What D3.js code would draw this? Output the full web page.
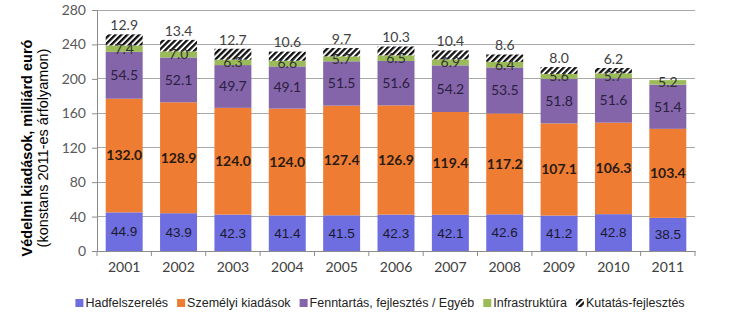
<!DOCTYPE html>
<html><head><meta charset="utf-8">
<script src="https://cdn.jsdelivr.net/npm/d3@7"></script>
<style>body{margin:0;background:#fff}svg{display:block}</style>
</head><body>
<svg id="c" width="737" height="330"></svg>
<script>
const years = ["2001","2002","2003","2004","2005","2006","2007","2008","2009","2010","2011"];
const hadfelszereles = [44.9,43.9,42.3,41.4,41.5,42.3,42.1,42.6,41.2,42.8,38.5];
const szemelyi = [132.0,128.9,124.0,124.0,127.4,126.9,119.4,117.2,107.1,106.3,103.4];
const fenntartas = [54.5,52.1,49.7,49.1,51.5,51.6,54.2,53.5,51.8,51.6,51.4];
const infrastruktura = [7.4,7.0,6.3,6.6,5.7,6.5,6.9,6.4,5.6,5.7,5.2];
const kutatas = [12.9,13.4,12.7,10.6,9.7,10.3,10.4,8.6,8.0,6.2,null];
const seriesNames = ["Hadfelszerelés","Személyi kiadások","Fenntartás, fejlesztés / Egyéb","Infrastruktúra","Kutatás-fejlesztés"];
const yTicks = [0,40,80,120,160,200,240,280];

const seriesVals = [hadfelszereles, szemelyi, fenntartas, infrastruktura, kutatas];
const colors = ["#6E6EE0","#EE7D33","#8565AA","#9BBB59","url(#hatch)"];
const labelStyle = [
  {font:"'Liberation Sans',Arial,sans-serif", weight:400, fill:"#1a1a2e", size:13.5},
  {font:"Lato,'Open Sans',sans-serif", weight:700, fill:"#2a1a10", size:14},
  {font:"Lato,'Open Sans',sans-serif", weight:400, fill:"#2a2040", size:14},
  {font:"Lato,'Open Sans',sans-serif", weight:400, fill:"#333", size:14},
  {font:"Lato,'Open Sans',sans-serif", weight:400, fill:"#404040", size:14}
];

const svg = d3.select("#c");
const defs = svg.append("defs");
const pat = defs.append("pattern").attr("id","hatch").attr("patternUnits","userSpaceOnUse")
  .attr("width",4.2).attr("height",4.2).attr("patternTransform","rotate(45)");
pat.append("rect").attr("width",4.2).attr("height",4.2).attr("fill","#fff");
pat.append("rect").attr("width",2.3).attr("height",4.2).attr("fill","#111");

const L = 97, R = 695, T = 10, B = 251;
const x = d3.scaleBand().domain(years).range([L,R]).paddingInner(0.32).paddingOuter(0.16);
const y = d3.scaleLinear().domain([0,280]).range([B,T]);

// gridlines
svg.append("g").selectAll("line").data(yTicks.filter(d=>d>0)).join("line")
  .attr("x1",L).attr("x2",R).attr("y1",d=>y(d)).attr("y2",d=>y(d))
  .attr("stroke","#A8A8A8").attr("stroke-width",1).attr("shape-rendering","crispEdges");

// stacked data
const rows = years.map((yr,i)=>{const o={year:yr}; seriesNames.forEach((s,j)=>o[s]=seriesVals[j][i]||0); return o;});
const stack = d3.stack().keys(seriesNames)(rows);

const gBars = svg.append("g");
stack.forEach((layer,j)=>{
  gBars.append("g").attr("fill",colors[j]).selectAll("rect").data(layer.filter(d=>d[1]-d[0]>0)).join("rect")
    .attr("x",d=>x(d.data.year)).attr("width",x.bandwidth())
    .attr("y",d=>y(d[1])).attr("height",d=>y(d[0])-y(d[1]));
});

// axes
const yAxis = d3.axisLeft(y).tickValues(yTicks).tickSize(5).tickPadding(6);
const gy = svg.append("g").attr("transform",`translate(${L},0)`).call(yAxis);
gy.select(".domain").attr("stroke","#8C8C8C");
gy.selectAll(".tick line").attr("stroke","#8C8C8C");
gy.selectAll("text").attr("font-family","Lato,'Open Sans',sans-serif").attr("font-size",14).attr("fill","#595959");

const xAxis = d3.axisBottom(x).tickSize(0).tickPadding(11);
const gx = svg.append("g").attr("transform",`translate(0,${B})`).call(xAxis);
gx.select(".domain").attr("stroke","#8C8C8C");
gx.selectAll("text").attr("font-family","Lato,'Open Sans',sans-serif").attr("font-size",14).attr("fill","#404040");
const step = x.step();
const bounds = d3.range(years.length+1).map(i=>L + i*step);
gx.append("g").selectAll("line").data(bounds).join("line")
  .attr("x1",d=>d).attr("x2",d=>d).attr("y1",0).attr("y2",5).attr("stroke","#8C8C8C");

// labels
const gl = svg.append("g");
stack.forEach((layer,j)=>{
  const st = labelStyle[j];
  gl.append("g").selectAll("text").data(layer.filter(d=>d[1]-d[0]>0)).join("text")
    .attr("x",d=>x(d.data.year)+x.bandwidth()/2)
    .attr("y",d=> j===4 ? y(d[1])-9 : y((d[0]+d[1])/2))
    .attr("dy","0.35em")
    .attr("text-anchor","middle")
    .attr("font-family",st.font).attr("font-weight",st.weight)
    .attr("font-size",st.size).attr("fill",st.fill)
    .text(d=>(d[1]-d[0]).toFixed(1));
});

// y title
const ty = svg.append("text").attr("transform","translate(32,148) rotate(-90)")
  .attr("text-anchor","middle").attr("font-family","'Liberation Sans',Arial,sans-serif")
  .attr("font-size",14.5).attr("fill","#000");
ty.append("tspan").attr("x",0).attr("dy",0).attr("font-weight",700).text("Védelmi kiadások, milliárd euró");
ty.append("tspan").attr("x",0).attr("dy",16).text("(konstans 2011-es árfolyamon)");

// legend
const lg = svg.append("g").attr("font-family","'Liberation Sans',Arial,sans-serif").attr("font-size",12.5).attr("fill","#222");
const items = [];
seriesNames.forEach((s,j)=>{
  const it = lg.append("g");
  it.append("rect").attr("x",0).attr("y",-4).attr("width",8).attr("height",8).attr("fill",colors[j]);
  const t = it.append("text").attr("x",10).attr("dy","0.35em").text(s);
  items.push({g:it,w:10+t.node().getComputedTextLength()});
});
const gap = 9;
const total = d3.sum(items,d=>d.w) + gap*(items.length-1);
let start = 380 - total/2;
items.forEach(d=>{d.g.attr("transform",`translate(${start},303)`); start += d.w+gap;});
</script>
</body></html>
